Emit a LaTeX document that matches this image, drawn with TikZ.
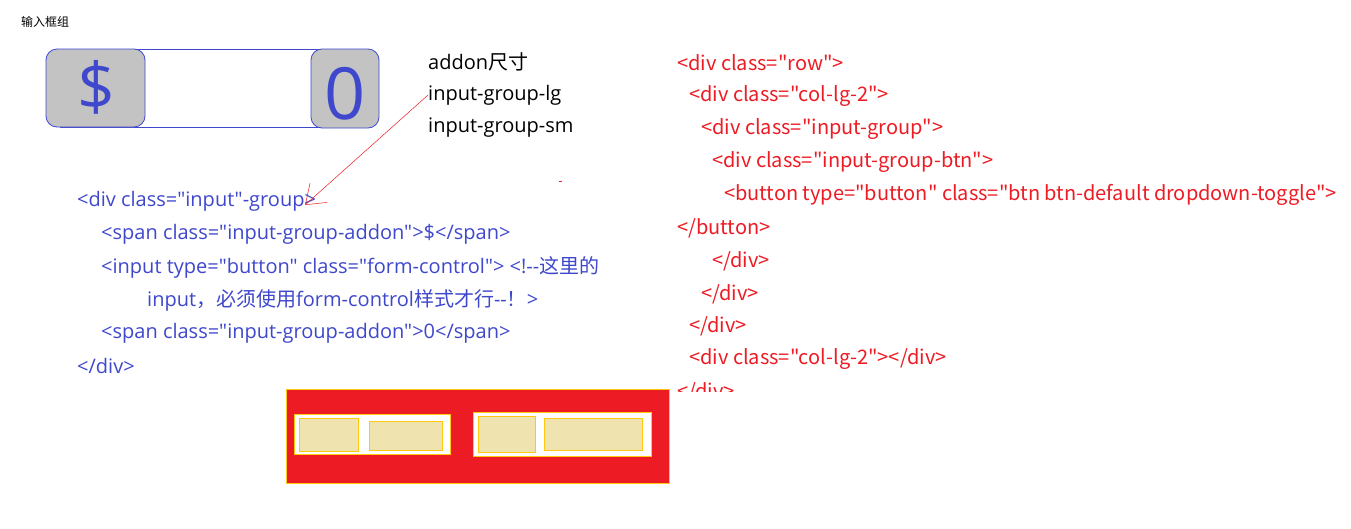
\documentclass[tikz,border=0pt]{standalone}
\usepackage{fontspec}
\setmainfont{Noto Sans CJK SC}
\newfontfamily\cjk{Noto Sans CJK SC}
\newfontfamily\latf{Open Sans}
\newfontfamily\redfont{Noto Sans CJK SC}
\usetikzlibrary{arrows.meta}
\definecolor{cblue}{HTML}{3F48CC}
\definecolor{cred}{HTML}{ED1C24}
\definecolor{cyel}{HTML}{FFC90E}
\definecolor{cbeige}{HTML}{EFE4B0}
\definecolor{cgray}{HTML}{C3C3C3}
\tikzset{
  bcode/.style={anchor=west,inner sep=0pt,text=cblue,font=\latf\fontsize{20}{20}\selectfont},
  rcode/.style={anchor=west,inner sep=0pt,text=cred,font=\redfont\fontsize{20}{20}\selectfont},
  label/.style={anchor=west,inner sep=0pt,text=black,font=\latf\fontsize{20}{20}\selectfont},
  addon/.style={draw=cblue,fill=cgray,rounded corners=11pt,line width=0.8pt},
  sym/.style={text=cblue,inner sep=0pt},
  wbox/.style={draw=cyel,fill=white,line width=0.8pt},
  bbox/.style={draw=cyel,fill=cbeige,line width=0.8pt},
}
\begin{document}
\begin{tikzpicture}[x=1pt,y=-1pt]
\useasboundingbox (0,0) rectangle (1351,528);
\fill[white] (0,0) rectangle (1351,528);
% title
\node[anchor=west,inner sep=0pt,font=\cjk\fontsize{12}{12}\selectfont] (title) at (21,22) {输入框组};
% input group demo
\draw[cblue,line width=0.8pt,fill=white] (60,49) rectangle (330,127);
\draw[addon] (46,49) rectangle (145,127);
\draw[addon] (311,49) rectangle (379,128);
\node[sym,font=\latf\fontsize{66}{66}\selectfont] (dollar) at (96,87) {\$};
\node[sym,font=\latf\fontsize{72}{72}\selectfont] (zero) at (345,94) {0};
% labels
\node[label] (l1) at (428,62) {addon{\cjk 尺寸}};
\node[label] (l2) at (428,95) {input-group-lg};
\node[label] (l3) at (428,128) {input-group-sm};
% blue code
\node[bcode] (b1) at (77,201) {<div class="input"-group>};
\node[bcode] (b2) at (101,234) {<span class="input-group-addon">\$</span>};
\node[bcode] (b3) at (101,267) {<input type="button" class="form-control"> <!--{\cjk 这里的}};
\node[bcode] (b4) at (147,300) {input{\cjk ，必须使用}form-control{\cjk 样式才行}--{\cjk ！}>};
\node[bcode] (b5) at (101,333) {<span class="input-group-addon">0</span>};
\node[bcode] (b6) at (77,366) {</div>};
% arrow
\coordinate (tip) at (305,205);
\draw[cred,line width=0.5pt,-{Straight Barb[length=18pt,width=26pt,line width=0.5pt]}] (l2.west) -- (tip);
\draw[cred,line width=1pt] (559,181) -- (562,181);
% red code
\begin{scope}
\clip (660,0) rectangle (1351,391);
\node[rcode] (r1) at (677,63) {<div class="row">};
\node[rcode] (r2) at (689,96) {<div class="col-lg-2">};
\node[rcode] (r3) at (701,129) {<div class="input-group">};
\node[rcode] (r4) at (712,162) {<div class="input-group-btn">};
\node[rcode] (r5) at (724,195) {<button type="button" class="btn btn-default dropdown-toggle">};
\node[rcode] (r6) at (677,228) {</button>};
\node[rcode] (r7) at (712,261) {</div>};
\node[rcode] (r8) at (701,294) {</div>};
\node[rcode] (r9) at (689,326) {</div>};
\node[rcode] (r10) at (689,359) {<div class="col-lg-2"></div>};
\node[rcode] (r11) at (677,392) {</div>};
\end{scope}
% bottom layout sketch
\draw[draw=cyel,fill=cred,line width=0.8pt] (286,389) rectangle (669,483);
\draw[wbox] (294,414) rectangle (450,454);
\draw[bbox] (299,418) rectangle (358,451);
\draw[bbox] (369,421) rectangle (442,450);
\draw[wbox] (473,412) rectangle (651,456);
\draw[bbox] (478,416) rectangle (535,452);
\draw[bbox] (544,418) rectangle (642,450);
\end{tikzpicture}
\end{document}
